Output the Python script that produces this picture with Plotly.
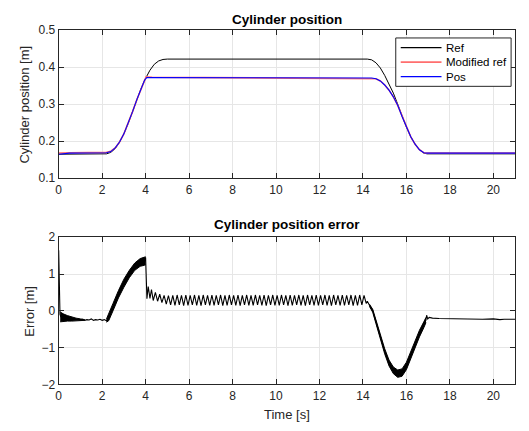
import plotly.graph_objects as go

# ---------------- data: top panel ----------------
ref_t = [0, 2.2, 2.4, 2.6, 2.8, 3.0, 3.2, 3.4, 3.6, 3.8, 4.0, 4.2, 4.4, 4.6, 4.8, 5.0,
         14.2, 14.4, 14.6, 14.8, 15.0, 15.2, 15.4, 15.6, 15.8, 16.0, 16.2, 16.4, 16.6, 16.8, 16.95, 21]
ref_v = [0.165, 0.166, 0.170, 0.180, 0.197, 0.220, 0.248, 0.280, 0.313, 0.344, 0.370, 0.392, 0.408, 0.417, 0.421, 0.422,
         0.422, 0.420, 0.412, 0.398, 0.378, 0.356, 0.330, 0.300, 0.268, 0.238, 0.212, 0.192, 0.177, 0.168, 0.166, 0.166]

mod_t = [0, 0.5, 2.2, 2.4, 2.6, 2.8, 3.0, 3.2, 3.4, 3.6, 3.8, 3.95, 4.02, 4.3, 14.4, 14.6, 14.8, 15.0,
         15.2, 15.4, 15.6, 15.8, 16.0, 16.2, 16.4, 16.6, 16.8, 16.95, 21]
mod_v = [0.168, 0.169, 0.170, 0.173, 0.182, 0.198, 0.220, 0.248, 0.280, 0.313, 0.344, 0.366, 0.374, 0.373, 0.371, 0.369, 0.363, 0.352,
         0.338, 0.320, 0.297, 0.267, 0.238, 0.212, 0.192, 0.177, 0.169, 0.168, 0.168]

pos_t = [0, 0.5, 2.2, 2.4, 2.6, 2.8, 3.0, 3.2, 3.4, 3.6, 3.8, 3.95, 4.05, 4.3, 14.4, 14.6, 14.8, 15.0,
         15.2, 15.4, 15.6, 15.8, 16.0, 16.2, 16.4, 16.6, 16.8, 16.95, 21]
pos_v = [0.165, 0.168, 0.169, 0.172, 0.182, 0.198, 0.220, 0.248, 0.280, 0.313, 0.344, 0.365, 0.372, 0.372, 0.371, 0.369, 0.363, 0.352,
         0.338, 0.320, 0.297, 0.267, 0.238, 0.212, 0.192, 0.177, 0.169, 0.168, 0.168]

series_names = ["Ref", "Modified ref", "Pos"]

# ---------------- data: bottom panel ----------------
err_t = [0.0, 0.02, 0.04, 0.06, 0.1, 0.3, 0.5, 0.7, 0.9, 1.0, 1.1, 1.2, 1.3, 1.4, 1.5, 1.6, 1.7, 1.8, 1.9, 2.0, 2.1, 2.2,
         2.3, 2.5, 2.75, 3.0, 3.25, 3.5, 3.75, 3.95, 4.0, 4.02, 4.06,
         4.12, 4.2, 4.27, 4.35, 4.45, 4.55, 4.65, 4.75, 4.85, 4.95,
         5.05, 5.15, 5.25, 5.35, 5.45, 5.55, 5.65, 5.75, 5.85, 5.95,
         6.05, 6.15, 6.25, 6.35, 6.45, 6.55, 6.65, 6.75, 6.85, 6.95,
         7.05, 7.15, 7.25, 7.35, 7.45, 7.55, 7.65, 7.75, 7.85, 7.95,
         8.05, 8.15, 8.25, 8.35, 8.45, 8.55, 8.65, 8.75, 8.85, 8.95,
         9.05, 9.15, 9.25, 9.35, 9.45, 9.55, 9.65, 9.75, 9.85, 9.95,
         10.05, 10.15, 10.25, 10.35, 10.45, 10.55, 10.65, 10.75, 10.85, 10.95,
         11.05, 11.15, 11.25, 11.35, 11.45, 11.55, 11.65, 11.75, 11.85, 11.95,
         12.05, 12.15, 12.25, 12.35, 12.45, 12.55, 12.65, 12.75, 12.85, 12.95,
         13.05, 13.15, 13.25, 13.35, 13.45, 13.55, 13.65, 13.75, 13.85, 13.95,
         14.05, 14.1, 14.15, 14.2, 14.25, 14.3,
         14.45, 14.6, 14.8, 15.0, 15.2, 15.4, 15.6, 15.8, 16.0, 16.2, 16.4, 16.6, 16.8, 16.9, 16.93, 16.98,
         17.05, 17.2, 17.5, 18.0, 18.5, 19.0, 19.5, 20.0, 20.3, 20.5, 21.0]
err_v = [1.65, 0.9, 0.2, -0.1, -0.16, -0.18, -0.21, -0.23, -0.24, -0.25, -0.23, -0.26, -0.24, -0.25, -0.22, -0.26, -0.24, -0.25, -0.23, -0.26, -0.24, -0.27,
         -0.18, 0.1, 0.45, 0.75, 1.0, 1.2, 1.32, 1.35, 1.45, 0.75, 0.33,
         0.66, 0.34, 0.58, 0.28, 0.5, 0.26, 0.45, 0.22, 0.42, 0.18,
         0.41, 0.16, 0.42, 0.15, 0.43, 0.16, 0.42, 0.14, 0.43, 0.15,
         0.42, 0.16, 0.43, 0.15, 0.42, 0.14, 0.43, 0.16, 0.42, 0.15,
         0.43, 0.15, 0.42, 0.16, 0.43, 0.14, 0.42, 0.15, 0.43, 0.16,
         0.42, 0.15, 0.43, 0.14, 0.42, 0.16, 0.43, 0.15, 0.42, 0.15,
         0.43, 0.16, 0.42, 0.15, 0.43, 0.14, 0.42, 0.16, 0.43, 0.15,
         0.42, 0.15, 0.43, 0.16, 0.42, 0.14, 0.43, 0.15, 0.42, 0.16,
         0.43, 0.15, 0.42, 0.14, 0.43, 0.16, 0.42, 0.15, 0.43, 0.15,
         0.42, 0.16, 0.43, 0.15, 0.42, 0.14, 0.43, 0.16, 0.42, 0.15,
         0.43, 0.15, 0.42, 0.16, 0.43, 0.14, 0.42, 0.15, 0.43, 0.16,
         0.42, 0.25, 0.2, 0.26, 0.18, 0.15,
         0.0, -0.3, -0.7, -1.1, -1.42, -1.62, -1.71, -1.68, -1.5, -1.2, -0.9, -0.62, -0.38, -0.25, -0.12, -0.22,
         -0.18, -0.2, -0.21, -0.22, -0.21, -0.22, -0.23, -0.22, -0.24, -0.23, -0.23]

# oscillation envelopes (dense oscillation drawn as a solid band)
band0_t = [0.07, 0.2, 0.4, 0.6, 0.8, 1.0, 1.2]
band0_hi = [-0.03, -0.08, -0.13, -0.17, -0.2, -0.22, -0.24]
band0_lo = [-0.30, -0.29, -0.28, -0.28, -0.27, -0.27, -0.26]

band1_t = [2.2, 2.3, 2.5, 2.75, 3.0, 3.25, 3.5, 3.75, 3.95, 4.0]
band1_hi = [-0.22, -0.09, 0.2, 0.55, 0.86, 1.1, 1.3, 1.42, 1.45, 1.47]
band1_lo = [-0.31, -0.27, 0.0, 0.35, 0.64, 0.9, 1.1, 1.21, 1.24, 1.25]

band2_t = [14.3, 14.45, 14.6, 14.8, 15.0, 15.2, 15.4, 15.6, 15.8, 16.0, 16.2, 16.4, 16.6, 16.8, 16.9]
band2_hi = [0.18, 0.04, -0.25, -0.64, -1.03, -1.34, -1.53, -1.61, -1.58, -1.40, -1.10, -0.80, -0.53, -0.30, -0.18]
band2_lo = [0.12, -0.04, -0.35, -0.76, -1.17, -1.50, -1.71, -1.81, -1.78, -1.60, -1.30, -1.00, -0.71, -0.46, -0.32]

x_ticks = [0, 2, 4, 6, 8, 10, 12, 14, 16, 18, 20]
top_yticks = [0.1, 0.2, 0.3, 0.4, 0.5]
top_ylabels = ["0.1", "0.2", "0.3", "0.4", "0.5"]
bot_yticks = [-2, -1, 0, 1, 2]

# ---------------- figure ----------------
W, H = 529, 431
FONT = "Liberation Sans, Arial, Helvetica, sans-serif"
AX = "#262626"
series_colors = ["black", "#ff6e6e", "#0000ff"]
series_widths = [1, 1.6, 1.1]

fig = go.Figure()

for name, t, v, c, w in zip(series_names, [ref_t, mod_t, pos_t], [ref_v, mod_v, pos_v],
                            series_colors, series_widths):
    fig.add_trace(go.Scatter(x=t, y=v, mode="lines", name=name, showlegend=False,
                             line=dict(color=c, width=w), xaxis="x", yaxis="y"))

for bt, bh, bl in [(band0_t, band0_hi, band0_lo), (band1_t, band1_hi, band1_lo), (band2_t, band2_hi, band2_lo)]:
    fig.add_trace(go.Scatter(x=bt, y=bl, mode="lines", line=dict(color="black", width=1),
                             showlegend=False, xaxis="x2", yaxis="y2"))
    fig.add_trace(go.Scatter(x=bt, y=bh, mode="lines", line=dict(color="black", width=1),
                             fill="tonexty", fillcolor="black",
                             showlegend=False, xaxis="x2", yaxis="y2"))

fig.add_trace(go.Scatter(x=err_t, y=err_v, mode="lines", line=dict(color="black", width=1.1),
                         showlegend=False, xaxis="x2", yaxis="y2"))

x0, x1 = 56 / W, 515 / W
top_dom = [1 - 177 / H, 1 - 24 / H]
bot_dom = [1 - 390 / H, 1 - 238 / H]

axis_common = dict(showline=True, linecolor=AX, linewidth=1, mirror="ticks",
                   ticks="inside", ticklen=5, tickcolor=AX, tickwidth=1,
                   showgrid=True, gridcolor="#e6e6e6", gridwidth=1, zeroline=False,
                   tickfont=dict(family=FONT, size=12, color=AX))

# legend drawn in pixel-derived paper coordinates
def px(xp):
    return xp / W

def py(yp):
    return 1 - yp / H

shapes = [dict(type="rect", xref="paper", yref="paper", x0=px(395), x1=px(511), y0=py(82), y1=py(32),
               line=dict(color=AX, width=1), fillcolor="white", layer="above")]
annotations = []
rows = [42, 57, 72]
for name, c, w, ry in zip(series_names, series_colors, series_widths, rows):
    shapes.append(dict(type="line", xref="paper", yref="paper", x0=px(400), x1=px(441), y0=py(ry), y1=py(ry),
                       line=dict(color=c, width=w + 0.3), layer="above"))
    annotations.append(dict(text=name, x=px(444), y=py(ry), xref="paper", yref="paper", showarrow=False,
                            xanchor="left", yanchor="middle",
                            font=dict(family=FONT, size=11.5, color="black")))

annotations += [
    dict(text="<b>Cylinder position</b>", x=(x0 + x1) / 2, y=py(13), xref="paper", yref="paper",
         showarrow=False, font=dict(family=FONT, size=13.5, color="black"), yanchor="middle"),
    dict(text="<b>Cylinder position error</b>", x=(x0 + x1) / 2, y=py(225), xref="paper", yref="paper",
         showarrow=False, font=dict(family=FONT, size=13.5, color="black"), yanchor="middle"),
    dict(text="Cylinder position [m]", x=px(22), y=py(101), xref="paper", yref="paper",
         showarrow=False, textangle=-90, font=dict(family=FONT, size=13, color=AX),
         xanchor="center", yanchor="middle"),
    dict(text="Error [m]", x=px(27), y=py(314), xref="paper", yref="paper",
         showarrow=False, textangle=-90, font=dict(family=FONT, size=13, color=AX),
         xanchor="center", yanchor="middle"),
    dict(text="Time [s]", x=(x0 + x1) / 2, y=py(421), xref="paper", yref="paper",
         showarrow=False, font=dict(family=FONT, size=13, color=AX), yanchor="middle"),
]

fig.update_layout(
    width=W, height=H, margin=dict(l=0, r=0, t=0, b=0),
    paper_bgcolor="white", plot_bgcolor="white",
    xaxis=dict(domain=[x0, x1], range=[0, 21], tickvals=x_ticks, anchor="y", **axis_common),
    yaxis=dict(domain=top_dom, range=[0.1, 0.5], tickvals=top_yticks, ticktext=top_ylabels,
               anchor="x", **axis_common),
    xaxis2=dict(domain=[x0, x1], range=[0, 21], tickvals=x_ticks, anchor="y2", **axis_common),
    yaxis2=dict(domain=bot_dom, range=[-2, 2], tickvals=bot_yticks, anchor="x2", **axis_common),
    showlegend=False,
    shapes=shapes,
    annotations=annotations,
)

fig.write_html("out.html")
